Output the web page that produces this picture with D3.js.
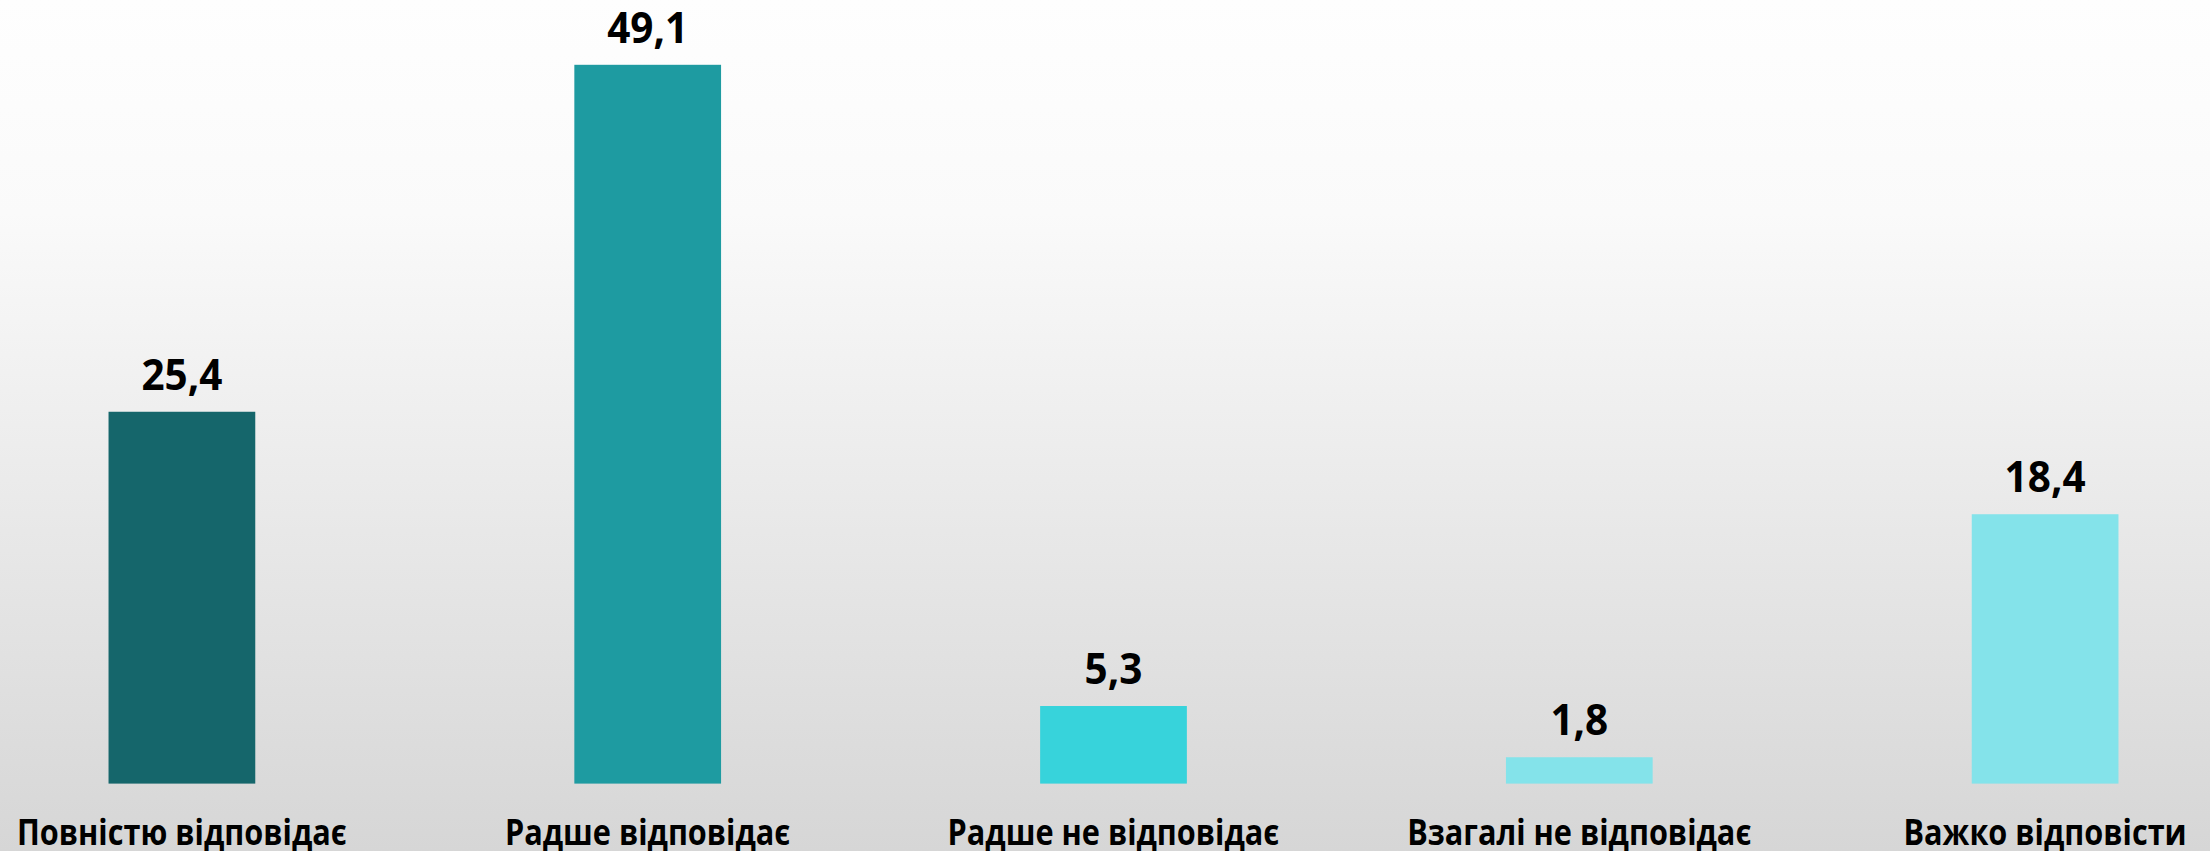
<!DOCTYPE html>
<html>
<head>
<meta charset="utf-8">
<script src="https://cdn.jsdelivr.net/npm/d3@7"></script>
<style>
  html, body { margin: 0; padding: 0; overflow: hidden; }
  svg { display: block; }
</style>
</head>
<body>
<div id="chart"></div>
<script>
var categories = ['Повністю відповідає', 'Радше відповідає', 'Радше не відповідає', 'Взагалі не відповідає', 'Важко відповісти'];
var values = [25.4, 49.1, 5.3, 1.8, 18.4];
var colors = ['#15666b', '#1e9ba1', '#37d3db', '#84e3ea', '#84e3ea'];

var width = 2210, height = 851;
var fontFamily = '"Open Sans", "Noto Sans", sans-serif';

var svg = d3.select('#chart').append('svg')
  .attr('width', width)
  .attr('height', height);

// background gradient
var grad = svg.append('defs').append('linearGradient')
  .attr('id', 'bg').attr('x1', 0).attr('y1', 0).attr('x2', 0).attr('y2', 1);
grad.append('stop').attr('offset', '0%').attr('stop-color', '#fefefe');
grad.append('stop').attr('offset', '25%').attr('stop-color', '#fafafa');
grad.append('stop').attr('offset', '100%').attr('stop-color', '#d6d6d6');

svg.append('rect').attr('width', width).attr('height', height).attr('fill', 'url(#bg)');

var x = d3.scaleBand()
  .domain(categories)
  .range([-51, 2278])
  .paddingInner(0.685)
  .paddingOuter(0.3425);

var y = d3.scaleLinear()
  .domain([0, d3.max(values)])
  .range([783.6, 64.8]);

var data = categories.map(function(c, i){ return {cat: c, val: values[i], color: colors[i]}; });
var fmt = function(v){ return String(v).replace('.', ','); };

var g = svg.append('g');

g.selectAll('rect.bar')
  .data(data)
  .enter().append('rect')
  .attr('class', 'bar')
  .attr('x', function(d){ return x(d.cat); })
  .attr('y', function(d){ return y(d.val); })
  .attr('width', x.bandwidth())
  .attr('height', function(d){ return y(0) - y(d.val); })
  .attr('fill', function(d){ return d.color; });

// narrow the substitute font so it takes the room of the original one
function squeeze(sel, targetWidth){
  var w = d3.max(sel.nodes(), function(n){ return n.getComputedTextLength(); });
  return targetWidth / w;
}

// value labels
var vals = g.selectAll('text.val')
  .data(data)
  .enter().append('text')
  .attr('class', 'val')
  .attr('text-anchor', 'middle')
  .style('font-family', fontFamily)
  .style('font-weight', 'bold')
  .style('font-size', '43px')
  .style('fill', '#000')
  .text(function(d){ return fmt(d.val); });
var sv = 81 / d3.select(vals.nodes()[1]).node().getComputedTextLength();
vals.attr('transform', function(d){
  return 'translate(' + (x(d.cat) + x.bandwidth()/2) + ',' + (y(d.val) - 22) + ') scale(' + sv + ',1)';
});

// category labels
var labs = svg.append('g').selectAll('text.cat')
  .data(categories)
  .enter().append('text')
  .attr('class', 'cat')
  .attr('text-anchor', 'middle')
  .style('font-family', fontFamily)
  .style('font-weight', 'bold')
  .style('font-size', '35px')
  .style('fill', '#000')
  .text(function(d){ return d; });
var sc = 330 / labs.nodes()[0].getComputedTextLength();
labs.attr('transform', function(d){
  return 'translate(' + (x(d) + x.bandwidth()/2) + ',' + 845 + ') scale(' + sc + ',1)';
});
</script>
</body>
</html>
